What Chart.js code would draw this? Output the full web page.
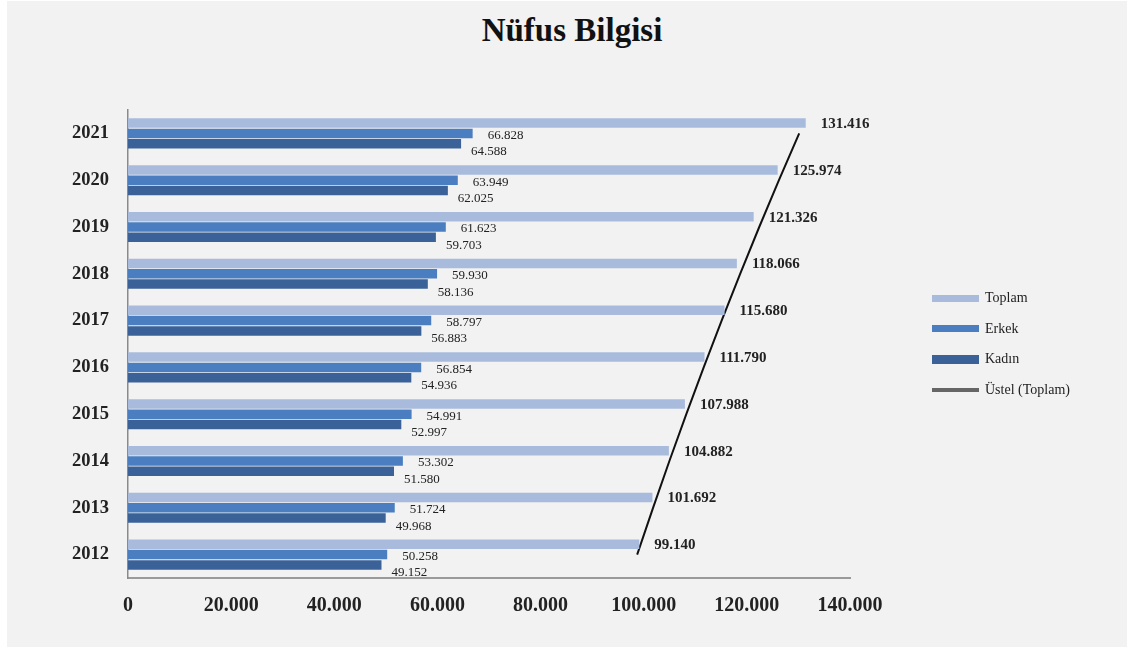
<!DOCTYPE html>
<html>
<head>
<meta charset="utf-8">
<script src="https://cdn.jsdelivr.net/npm/chart.js@4"></script>
<style>
  html, body { margin: 0; padding: 0; background: #ffffff; }
  #panel { position: absolute; left: 7px; top: 1px; width: 1120px; height: 646px; background: #f2f2f2; }
  #wrap { position: absolute; left: 0; top: 0; width: 1134px; height: 648px; }
  #title { position: absolute; left: 0; top: 10px; width: 1144px; text-align: center; font-family: "Liberation Serif", serif; font-weight: bold; font-size: 33px; color: #111; line-height: 40px; }
  #legend { position: absolute; left: 932px; top: 283px; font-family: "Liberation Serif", serif; font-size: 14px; color: #222; }
  .item { height: 30.5px; display: flex; align-items: center; }
  .swatch { width: 47px; margin-right: 6px; }
</style>
</head>
<body>
<div id="panel"></div>
<div id="title">Nüfus Bilgisi</div>
<div id="wrap"><canvas id="myChart" width="1134" height="648"></canvas></div>
<div id="legend"></div>
<script>
const years = ["2021", "2020", "2019", "2018", "2017", "2016", "2015", "2014", "2013", "2012"]
const toplam = [131416, 125974, 121326, 118066, 115680, 111790, 107988, 104882, 101692, 99140]
const erkek = [66828, 63949, 61623, 59930, 58797, 56854, 54991, 53302, 51724, 50258]
const kadin = [64588, 62025, 59703, 58136, 56883, 54936, 52997, 51580, 49968, 49152]
// trendline
const ustel = [130150, 126220, 122400, 118700, 115110, 111630, 108260, 104980, 101810, 98730]
const xTicks = [0, 20000, 40000, 60000, 80000, 100000, 120000, 140000]

const fmt = v => String(v).replace(/\B(?=(\d{3})+(?!\d))/g, ".")

const colors = { toplam: "#a9bbdc", erkek: "#4a7ec0", kadin: "#3b6298", ustel: "#111111" }

const labelPlugin = {
  id: "barLabels",
  afterDatasetsDraw(chart) {
    const ctx = chart.ctx
    ctx.save()
    ctx.textBaseline = "middle"
    ctx.textAlign = "left"
    ctx.fillStyle = "#222"
    chart.getDatasetMeta(0).data.forEach((bar, i) => {
      ctx.font = "bold 15px 'Liberation Serif'"
      ctx.fillText(fmt(toplam[i]), bar.x + 15, bar.y + 1)
    })
    ctx.font = "13px 'Liberation Serif'"
    chart.getDatasetMeta(1).data.forEach((bar, i) => {
      ctx.fillText(fmt(erkek[i]), bar.x + 15, bar.y + 2)
    })
    chart.getDatasetMeta(2).data.forEach((bar, i) => {
      ctx.fillText(fmt(kadin[i]), bar.x + 10, bar.y + 8)
    })
    ctx.restore()
  }
}

const myChartRef = document.getElementById("myChart").getContext("2d")
new Chart(myChartRef, {
  type: "bar",
  data: {
    labels: years,
    datasets: [
      { label: "Toplam", data: toplam, backgroundColor: colors.toplam, categoryPercentage: 0.66, barPercentage: 0.92 },
      { label: "Erkek", data: erkek, backgroundColor: colors.erkek, categoryPercentage: 0.66, barPercentage: 0.92 },
      { label: "Kadın", data: kadin, backgroundColor: colors.kadin, categoryPercentage: 0.66, barPercentage: 0.92 },
      { type: "line", label: "Üstel (Toplam)", data: ustel, borderColor: colors.ustel, borderWidth: 2, pointRadius: 0, fill: false }
    ]
  },
  options: {
    indexAxis: "y",
    responsive: false,
    animation: false,
    layout: { padding: { left: 53, right: 284, top: 110, bottom: 14 } },
    plugins: {
      legend: { display: false },
      tooltip: { enabled: false },
      title: { display: false }
    },
    scales: {
      x: {
        min: 0,
        max: 140000,
        afterBuildTicks: axis => { axis.ticks = xTicks.map(v => ({ value: v })) },
        grid: { display: false, drawTicks: false },
        border: { display: true, color: "#9a9a9a", width: 2 },
        ticks: {
          callback: v => fmt(v),
          color: "#222",
          padding: 16,
          maxRotation: 0,
          font: { family: "'Liberation Serif'", size: 20, weight: "bold" }
        }
      },
      y: {
        grid: { display: false, drawTicks: false },
        border: { display: true, color: "#8a8a8a", width: 1.5 },
        ticks: {
          color: "#222",
          padding: 19,
          font: { family: "'Liberation Serif'", size: 18.5, weight: "bold" }
        }
      }
    }
  },
  plugins: [labelPlugin]
})

const legendItems = [
  ["Toplam", colors.toplam, 7],
  ["Erkek", colors.erkek, 7],
  ["Kadın", colors.kadin, 9],
  ["Üstel (Toplam)", "#666", 4]
]
document.getElementById("legend").innerHTML = legendItems.map(([t, c, h]) =>
  `<div class="item"><div class="swatch" style="height:${h}px;background:${c}"></div><span>${t}</span></div>`
).join("")
</script>
</body>
</html>
